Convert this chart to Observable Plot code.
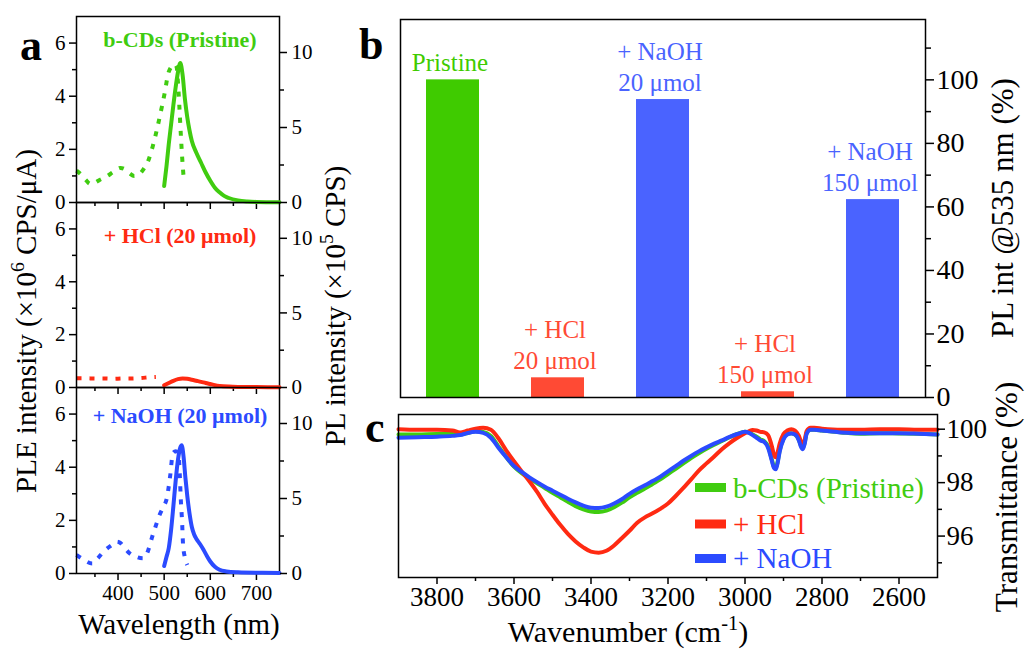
<!DOCTYPE html>
<html><head><meta charset="utf-8">
<script src="https://cdn.jsdelivr.net/npm/d3@7"></script>
<script src="https://cdn.jsdelivr.net/npm/@observablehq/plot@0.6"></script>
<style>
body{margin:0;background:#fff;}
#fig{position:relative;width:1025px;height:649px;overflow:hidden;background:#fff;}
#fig svg, #fig svg text, #fig svg tspan{font-family:"Liberation Serif","DejaVu Serif",serif !important;}
</style></head><body><div id="fig"></div>
<script>
// ---------- Panel a data ----------
const pleWlPristine = [310,320,330,340,350,360,375,390,405,415,425,435,445,455,465,475,485,495,502,508,515,522,527,530,533,536,539,543];
const plePristine   = [1.2,1.05,0.85,0.7,0.75,0.85,0.98,1.15,1.3,1.25,1.1,1.0,1.05,1.25,1.55,2.1,2.8,3.6,4.2,4.8,5.1,5.2,5.1,4.5,3.6,2.6,1.7,0.78];
const plWlPristine  = [500,505,510,515,520,525,530,535,540,545,550,555,560,570,580,590,600,610,620,630,640,660,680,700,750];
const plPristine    = [1.1,2.4,3.9,5.2,6.5,7.7,8.7,9.3,8.5,6.9,5.7,4.8,4.1,3.3,2.65,2.0,1.45,0.98,0.68,0.44,0.3,0.14,0.07,0.04,0.02];

const pleWlHCl = [310,330,350,370,390,410,430,450,470,482];
const pleHCl   = [0.35,0.35,0.34,0.34,0.33,0.34,0.34,0.36,0.39,0.4];
const plWlHCl  = [500,510,520,530,540,550,560,570,580,590,600,610,620,640,660,700,750];
const plHCl    = [0.15,0.3,0.45,0.56,0.6,0.58,0.52,0.45,0.38,0.3,0.23,0.16,0.11,0.06,0.04,0.03,0.02];

const pleWlNaOH = [310,320,330,344,355,365,375,385,398,405,415,425,440,454,465,474,482,490,498,506,513,519,525,531,534,536,539,541,545,550];
const pleNaOH   = [0.7,0.58,0.47,0.38,0.55,0.75,0.92,1.05,1.2,1.15,0.95,0.76,0.62,0.57,0.85,1.38,1.8,2.2,2.5,2.85,3.67,4.53,4.6,4.5,3.67,2.82,1.9,1.07,0.6,0.32];
const plWlNaOH  = [500,505,510,515,520,525,530,535,538,542,546,550,555,560,565,570,578,585,593,600,610,620,635,660,700,750];
const plNaOH    = [0.5,1.1,1.7,2.9,4.5,6.2,7.6,8.4,8.55,7.8,6.4,5.2,4.0,3.1,2.6,2.3,1.95,1.6,1.15,0.8,0.45,0.25,0.14,0.08,0.05,0.04];

const subLabels = ["b-CDs (Pristine)", "+ HCl (20 μmol)", "+ NaOH (20 μmol)"];
const wlTicks = [400,500,600,700];
const wlMinor = [350,450,550,650];
const pleTicks = [0,2,4,6];
const pleMinor = [1,3,5];
const plTicks = [0,5,10];
const plMinor = [2.5,7.5];

// ---------- Panel b data ----------
const barCats   = ["Pristine","HCl20","NaOH20","HCl150","NaOH150"];
const barGroups = ["Pristine","HCl","NaOH","HCl","NaOH"];
const barValues = [100, 6.2, 93.8, 1.8, 62.3];
const barLabels = ["Pristine", "+ HCl\n20 μmol", "+ NaOH\n20 μmol", "+ HCl\n150 μmol", "+ NaOH\n150 μmol"];
const pctTicks = [0,20,40,60,80,100];
const pctMinor = [10,30,50,70,90,110];

// ---------- Panel c data ----------
const wavenumber = [3900,3850,3800,3760,3740,3720,3700,3680,3660,3640,3620,3600,3580,3560,3540,3520,3500,3480,3460,3440,3420,3400,3380,3360,3340,3320,3300,3280,3260,3240,3220,3200,3180,3160,3140,3120,3100,3080,3060,3040,3020,3000,2990,2980,2970,2960,2950,2940,2930,2925,2920,2915,2910,2900,2890,2880,2870,2860,2855,2850,2845,2840,2830,2820,2800,2750,2700,2650,2600,2550,2500];
const trPristine = [99.80,99.80,99.82,99.82,99.80,99.86,99.92,99.90,99.75,99.35,98.95,98.60,98.35,98.15,97.98,97.80,97.62,97.45,97.28,97.12,97.00,96.92,96.90,96.95,97.08,97.25,97.45,97.62,97.78,97.95,98.12,98.32,98.52,98.72,98.92,99.10,99.27,99.42,99.56,99.70,99.82,99.90,99.88,99.80,99.72,99.62,99.55,99.35,98.85,98.60,98.55,98.80,99.20,99.65,99.82,99.85,99.80,99.60,99.40,99.30,99.50,99.85,99.98,99.98,99.95,99.88,99.83,99.85,99.84,99.83,99.80];
const trHCl = [100.00,99.98,99.98,99.95,99.88,99.95,100.02,100.05,99.98,99.65,99.20,98.80,98.42,98.05,97.65,97.20,96.80,96.42,96.08,95.80,95.58,95.42,95.38,95.45,95.65,95.92,96.20,96.50,96.70,96.85,97.02,97.22,97.50,97.80,98.12,98.45,98.72,98.98,99.25,99.48,99.68,99.85,99.92,99.97,99.95,99.90,99.88,99.78,99.35,99.05,98.95,99.15,99.45,99.82,99.95,100.00,99.95,99.75,99.55,99.40,99.60,99.92,100.05,100.05,100.02,99.98,99.98,100.00,100.00,99.98,99.98];
const trNaOH = [99.68,99.70,99.72,99.75,99.78,99.86,99.90,99.86,99.68,99.30,98.95,98.62,98.40,98.20,98.02,97.85,97.70,97.55,97.40,97.26,97.14,97.06,97.05,97.10,97.22,97.38,97.58,97.75,97.90,98.06,98.22,98.42,98.62,98.82,99.00,99.17,99.32,99.46,99.58,99.71,99.82,99.90,99.86,99.78,99.68,99.58,99.52,99.30,98.80,98.55,98.50,98.75,99.15,99.62,99.80,99.84,99.80,99.58,99.35,99.25,99.45,99.82,99.98,99.98,99.95,99.88,99.85,99.85,99.85,99.83,99.80];
const legendLabels = ["b-CDs (Pristine)", "+ HCl", "+ NaOH"];
const wnTicks = [3800,3600,3400,3200,3000,2800,2600];
const wnMinor = [3700,3500,3300,3100,2900,2700];
const trTicks = [96,98,100];
const trMinor = [95,97,99];

// ---------- styling ----------
const FONT = '"Liberation Serif", "DejaVu Serif", serif';
const GREEN = "#40cc10", RED = "#ff2a12", BLUE = "#2b4bff";
const BAR_GREEN = "#3fcb00", BAR_RED = "#ff4a34", BAR_BLUE = "#4a63ff";
const fig = document.getElementById("fig");
function place(el, left, top){ el.style.position="absolute"; el.style.left=left+"px"; el.style.top=top+"px"; el.style.overflow="visible"; fig.appendChild(el); return el; }
const st = fs => ({background:"transparent", fontFamily:FONT, fontSize:fs+"px", color:"#000", overflow:"visible"});
const blank = () => "";
const num = d => String(d);

// ---------- Panel a ----------
const subs = [
  {label:subLabels[0], color:GREEN, pw:pleWlPristine, pv:plePristine, lw:plWlPristine, lv:plPristine, top:16, bottom:202, dy:23},
  {label:subLabels[1], color:RED,   pw:pleWlHCl, pv:pleHCl, lw:plWlHCl, lv:plHCl, top:202, bottom:387, dy:33},
  {label:subLabels[2], color:BLUE,  pw:pleWlNaOH, pv:pleNaOH, lw:plWlNaOH, lv:plNaOH, top:387, bottom:573, dy:28}
];
subs.forEach((s,i) => {
  const last = i === 2;
  const h = s.bottom - s.top;
  const mb = last ? 60 : 10;
  const H = h + 10 + mb;
  const ple = s.pw.map((x,j) => ({x, y:s.pv[j]}));
  const pl = s.lw.map((x,j) => ({x, y:s.lv[j]}));
  const A = Plot.plot({
    width:340, height:H, marginLeft:76, marginRight:61, marginTop:10, marginBottom:mb,
    x:{domain:[310,750]}, y:{domain:[0,7]}, style:st(21),
    marks:[
      Plot.line(ple, {x:"x", y:"y", stroke:s.color, strokeWidth:4, strokeDasharray:"5,8", strokeLinecap:"butt", curve:"monotone-x"}),
      Plot.axisY({anchor:"left", ticks:pleTicks, tickSize:7, tickPadding:4, strokeWidth:1.5, tickFormat:num, label:null}),
      Plot.axisY({anchor:"left", ticks:pleMinor, tickSize:4, tickFormat:blank, strokeWidth:1.5, label:null}),
      Plot.axisX({anchor:"bottom", ticks:wlTicks, tickSize:7, tickPadding:5, strokeWidth:1.5, tickFormat: last ? num : blank, label:null}),
      Plot.axisX({anchor:"bottom", ticks:wlMinor, tickSize:4, strokeWidth:1.5, tickFormat:blank, label:null}),
      Plot.text([s.label], {text:d => d, frameAnchor:"top", lineAnchor:"middle", dy:s.dy, dx:2, fontWeight:"bold", fontSize:22, fill:s.color}),
      Plot.frame({stroke:"#000", strokeWidth:1.5})
    ]
  });
  place(A, 0, s.top - 10);
  const B = Plot.plot({
    width:340, height:H, marginLeft:76, marginRight:61, marginTop:10, marginBottom:mb,
    x:{domain:[310,750], axis:null}, y:{domain:[0,12.4]}, style:st(21),
    marks:[
      Plot.line(pl, {x:"x", y:"y", stroke:s.color, strokeWidth:4, curve:"monotone-x"}),
      Plot.axisY({anchor:"right", ticks:plTicks, tickSize:7, tickPadding:5, strokeWidth:1.5, tickFormat:num, label:null}),
      Plot.axisY({anchor:"right", ticks:plMinor, tickSize:4, tickFormat:blank, strokeWidth:1.5, label:null})
    ]
  });
  place(B, 0, s.top - 10);
});

// ---------- Panel b ----------
const bars = barCats.map((c,i) => ({cat:c, group:barGroups[i], val:barValues[i], label:barLabels[i]}));
const PB = Plot.plot({
  width:640, height:420, marginLeft:40, marginRight:75, marginTop:19, marginBottom:23,
  x:{domain:barCats, paddingInner:0.5, paddingOuter:0.25, axis:null},
  y:{domain:[0,119]},
  color:{domain:["Pristine","HCl","NaOH"], range:[BAR_GREEN, BAR_RED, BAR_BLUE]},
  style:st(28),
  marks:[
    Plot.barY(bars, {x:"cat", y:"val", fill:"group"}),
    Plot.text(bars, {x:"cat", y:"val", text:"label", fill:"group", lineAnchor:"bottom", dy:-9, dx:-3, fontSize:25, lineHeight:1.24}),
    Plot.axisY({anchor:"right", ticks:pctTicks, tickSize:8, tickPadding:3, strokeWidth:1.5, tickFormat:num, label:null}),
    Plot.axisY({anchor:"right", ticks:pctMinor, tickSize:5, tickFormat:blank, strokeWidth:1.5, label:null}),
    Plot.frame({stroke:"#000", strokeWidth:1.5})
  ]
});
place(PB, 360, 0);

// ---------- Panel c ----------
const ftir = [];
const series = [["Pristine", trPristine], ["HCl", trHCl], ["NaOH", trNaOH]];
series.forEach(([name, arr]) => arr.forEach((v,j) => ftir.push({s:name, x:wavenumber[j], y:v})));
const PC = Plot.plot({
  width:665, height:240, marginLeft:38, marginRight:88, marginTop:14, marginBottom:63,
  x:{domain:[3900,2500]}, y:{domain:[94.45,100.55]},
  color:{domain:["Pristine","HCl","NaOH"], range:[GREEN, RED, BLUE]},
  style:st(27),
  marks:[
    Plot.line(ftir, {x:"x", y:"y", z:"s", stroke:"s", strokeWidth:4, curve:"monotone-x"}),
    Plot.axisY({anchor:"right", ticks:trTicks, tickSize:7, tickPadding:2, strokeWidth:1.5, tickFormat:num, label:null}),
    Plot.axisY({anchor:"right", ticks:trMinor, tickSize:4, tickFormat:blank, strokeWidth:1.5, label:null}),
    Plot.axisX({anchor:"bottom", ticks:wnTicks, tickSize:7, tickPadding:2, strokeWidth:1.5, tickFormat:num, label:null}),
    Plot.axisX({anchor:"bottom", ticks:wnMinor, tickSize:4, strokeWidth:1.5, tickFormat:blank, label:null}),
    Plot.frame({stroke:"#000", strokeWidth:1.5})
  ]
});
place(PC, 360, 400);

// ---------- Overlay texts ----------
const ov = d3.create("svg").attr("width",1025).attr("height",649).attr("font-family",FONT);
function addText(x, y, parts, {size, weight="normal", anchor="middle", rotate=0, fill="#000"}) {
  const g = ov.append("g").attr("transform", `translate(${x},${y}) rotate(${rotate})`);
  const t = g.append("text").attr("text-anchor", anchor).attr("font-size", size).attr("font-weight", weight).attr("fill", fill);
  let pending = 0;
  parts.forEach(p => {
    if (typeof p === "string") {
      const ts = t.append("tspan").text(p);
      if (pending) { ts.attr("dy", pending); pending = 0; }
    } else {
      t.append("tspan").attr("font-size", size*0.68).attr("dy", -size*0.4).text(p.sup);
      pending = size*0.4;
    }
  });
}
addText(20, 60, ["a"], {size:44, weight:"bold", anchor:"start"});
addText(359, 59, ["b"], {size:44, weight:"bold", anchor:"start"});
addText(365, 442, ["c"], {size:44, weight:"bold", anchor:"start"});
addText(36, 321, ["PLE intensity (×10", {sup:"6"}, " CPS/μA)"], {size:29, rotate:-90});
addText(345, 306, ["PL intensity (×10", {sup:"5"}, " CPS)"], {size:29, rotate:-90});
addText(179, 634, ["Wavelength (nm)"], {size:29});
addText(1013, 208, ["PL int @535 nm (%)"], {size:31, rotate:-90});
addText(1017, 497, ["Transmittance (%)"], {size:31, rotate:-90});
addText(628, 642, ["Wavenumber (cm", {sup:"-1"}, ")"], {size:30});
const legColors = [GREEN, RED, BLUE];
const legY = [487.5, 524, 558.5];
const legBase = [498, 534, 568];
legendLabels.forEach((l,i) => {
  ov.append("rect").attr("x",695).attr("y",legY[i]-4.5).attr("width",31).attr("height",9).attr("fill",legColors[i]);
  addText(733, legBase[i], [l], {size:29, anchor:"start", fill:legColors[i]});
});
place(ov.node(), 0, 0);
</script></body></html>
